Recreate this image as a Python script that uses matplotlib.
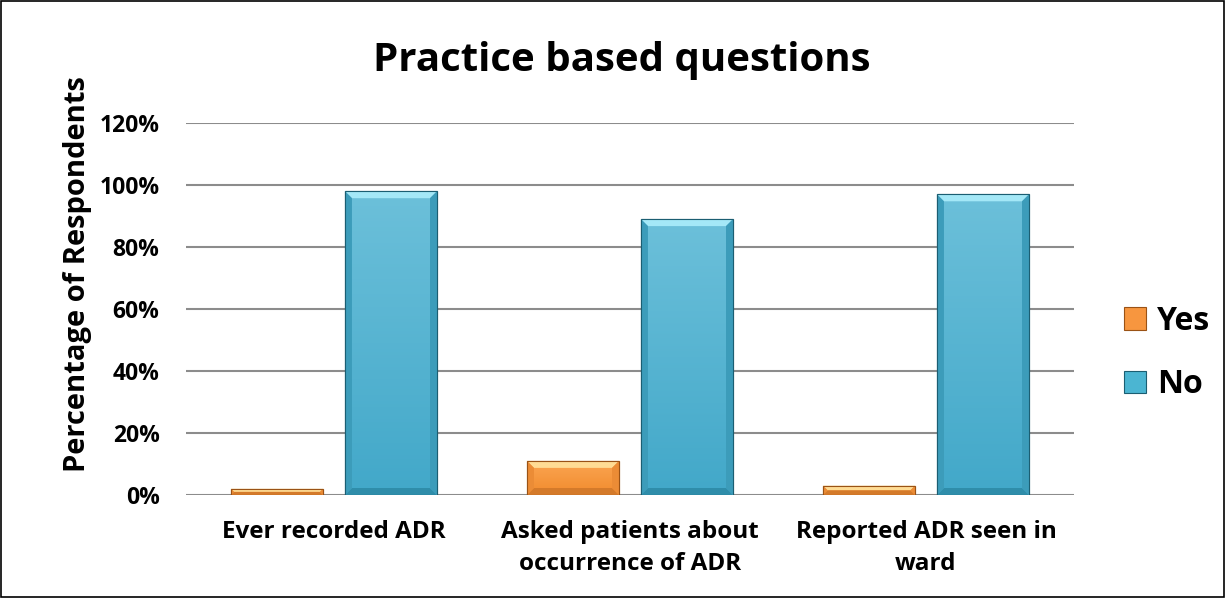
import matplotlib.pyplot as plt
import matplotlib.colors as mcolors
import numpy as np
from matplotlib.patches import Rectangle, Polygon

plt.rcParams['font.family'] = ['Open Sans', 'DejaVu Sans']
plt.rcParams['font.weight'] = 'bold'

# datos del grafico
categorias = ['Ever recorded ADR', 'Asked patients about\noccurrence of ADR', 'Reported ADR seen in\nward']
si = [2, 11, 3]
no = [98, 89, 97]
series = ['Yes', 'No']

col_si = '#F7963F'
col_no = '#4BB5D2'

fig = plt.figure(figsize=(12.25, 5.98), dpi=100)
ax = fig.add_axes([186/1225, 1-495/598, (1074-186)/1225, (495-123)/598])

x = np.arange(len(categorias))
ancho = 0.311
sep = 0.074
b1 = ax.bar(x - (ancho+sep)/2, si, ancho, color=col_si, edgecolor='#9A5215', linewidth=0.8, zorder=3, label=series[0])
b2 = ax.bar(x + (ancho+sep)/2, no, ancho, color=col_no, edgecolor='#1B5E72', linewidth=0.8, zorder=3, label=series[1])

ax.set_ylim(0, 120)
ax.set_xlim(-0.5, 2.5)
ax.set_autoscale_on(False)
fig.canvas.draw()
tr = ax.transData
inv = tr.inverted()

# bisel de las barras y degradado en la cara
def bisel(barras, arriba, abajo, claro, oscuro, lado):
    c0 = np.array(mcolors.to_rgb(arriba))
    c1 = np.array(mcolors.to_rgb(abajo))
    g = np.linspace(0, 1, 100)[:, None, None]
    img = c1 * g + c0 * (1 - g)
    for p in barras:
        x0, y0 = p.get_x(), p.get_y()
        x1, y1 = x0 + p.get_width(), y0 + p.get_height()
        im = ax.imshow(img, extent=(x0, x1, y0, y1), aspect='auto', origin='upper', zorder=3.5)
        im.set_clip_path(p)
        (px0, py0), (px1, py1) = tr.transform([(x0, y0), (x1, y1)])
        d = min(7, (py1 - py0) / 2, (px1 - px0) / 2)
        pts = lambda l: inv.transform(l)
        ax.add_patch(Polygon(pts([(px0, py1), (px1, py1), (px1-d, py1-d), (px0+d, py1-d)]), color=claro, lw=0, zorder=4))
        ax.add_patch(Polygon(pts([(px0, py0), (px1, py0), (px1-d, py0+d), (px0+d, py0+d)]), color=oscuro, lw=0, zorder=4))
        ax.add_patch(Polygon(pts([(px0, py0), (px0, py1), (px0+d, py1-d), (px0+d, py0+d)]), color=lado, lw=0, zorder=4))
        ax.add_patch(Polygon(pts([(px1, py0), (px1, py1), (px1-d, py1-d), (px1-d, py0+d)]), color=lado, lw=0, zorder=4))
        ax.add_patch(Rectangle((x0, y0), x1 - x0, y1 - y0, fill=False, edgecolor=p.get_edgecolor(), lw=0.8, zorder=4.5))

bisel(b1, '#FBA652', '#F18B2E', '#FFDC94', '#D47A2A', '#EB8C36')
bisel(b2, '#6CC0DA', '#42A8C9', '#A4E8F7', '#2F8DAA', '#3C9CBA')

ax.set_yticks(np.arange(0, 121, 20))
ax.set_yticklabels([f'{v}%' for v in range(0, 121, 20)], fontsize=16.5, fontweight='bold')
ax.set_xticks(x)
ax.set_xticklabels(categorias, fontsize=17.5, fontweight='bold', linespacing=1.45)
ax.tick_params(axis='y', length=0, pad=19)
ax.tick_params(axis='x', length=0, pad=18)
ax.grid(axis='y', color='#8C8C8C', linewidth=1.5, zorder=0)
for s in ax.spines.values():
    s.set_visible(False)

ax.set_ylabel('Percentage of Respondents', fontsize=21, fontweight='bold')
ax.yaxis.set_label_coords(-0.106, 0.594)
fig.text(622/1225, 1-60/598, 'Practice based questions', fontsize=29, fontweight='bold', ha='center', va='center')

ax.legend(loc='center left', bbox_to_anchor=(1.038, 0.382), frameon=False, fontsize=23,
          handlelength=0.7, handleheight=0.7, handletextpad=0.35, labelspacing=0.95, borderpad=0)

fig.patches.append(Rectangle((0.001, 0.002), 0.998, 0.996, transform=fig.transFigure, fill=False, edgecolor='black', linewidth=1.2))

plt.savefig('out.png', dpi=100)
